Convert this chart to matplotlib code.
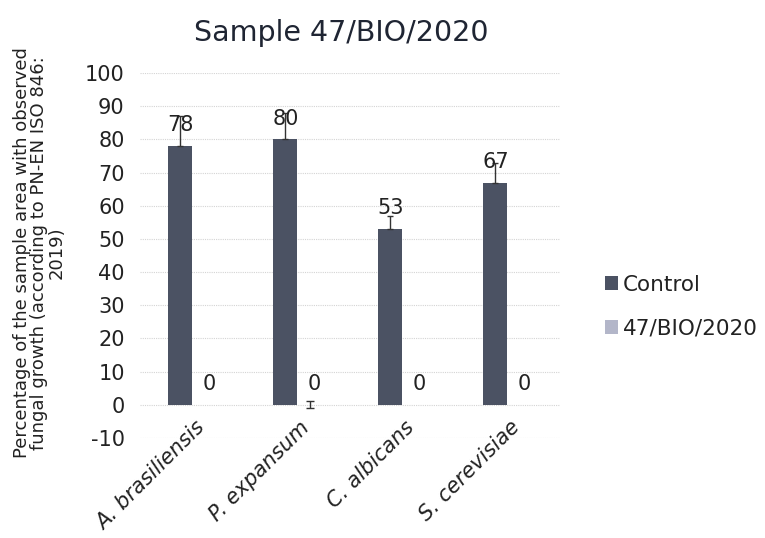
import matplotlib.pyplot as plt
import matplotlib.transforms as mtransforms
import numpy as np

plt.rcParams['axes.unicode_minus'] = False

species = ['A. brasiliensis', 'P. expansum', 'C. albicans', 'S. cerevisiae']
control = [78, 80, 53, 67]
control_err = [9, 8, 4, 6]
sample = [0, 0, 0, 0]
sample_err = [0, 1, 0, 0]

dark = '#4b5263'
light = '#b3b6c9'
ink = '#222222'

fig = plt.figure(figsize=(7.65, 5.38), dpi=100)
ax = fig.add_axes([0.183, 0.186, 0.549, 0.678])

x = np.arange(len(species))
w = 0.23
ax.bar(x - w / 2, control, w, color=dark, label='Control', zorder=3)
ax.bar(x + w / 2, sample, w, color=light, label='47/BIO/2020', zorder=3)

# control: only upper whisker with a small cap
ax.errorbar(x - w / 2, control, yerr=[np.zeros(4), control_err], fmt='none',
            ecolor='#333333', elinewidth=1, capsize=2.5, zorder=4)
# sample: symmetric whiskers where present
for xi, v, e in zip(x + w / 2, sample, sample_err):
    if e > 0:
        ax.errorbar(xi, v, yerr=e, fmt='none', ecolor='#333333',
                    elinewidth=1, capsize=3, zorder=4)

for xi, v in zip(x - w / 2, control):
    ax.text(xi, v + 3.3, str(v), ha='center', va='bottom', fontsize=15,
            color=ink, zorder=5)
for xi, v in zip(x + w / 2, sample):
    ax.text(xi + 0.04, v + 3.3, str(v), ha='center', va='bottom', fontsize=15,
            color=ink, zorder=5)

ax.set_ylim(-10, 100)
ax.set_xlim(-0.5, 3.5)
ax.set_yticks(range(-10, 101, 10))
ax.tick_params(axis='y', labelsize=15, length=0, pad=11, colors=ink)

# category labels sit next to the zero line, not the bottom of the axes
ax.spines['bottom'].set_position(('data', 0))
ax.set_xticks(x)
ax.set_xticklabels(species, rotation=45, ha='right', rotation_mode='anchor',
                   fontsize=15, style='italic', color=ink)
ax.tick_params(axis='x', length=0, pad=9)
shift = mtransforms.ScaledTranslation(2 / 100, 0, fig.dpi_scale_trans)
for lbl in ax.get_xticklabels():
    lbl.set_transform(lbl.get_transform() + shift)

ax.grid(axis='y', color='#d4d4d4', linestyle=(0, (1, 1)), linewidth=0.8, zorder=0)
for s in ax.spines.values():
    s.set_visible(False)

fig.text(0.051, 0.53,
         'Percentage of the sample area with observed\n'
         'fungal growth (according to PN-EN ISO 846:\n2019)',
         rotation=90, ha='center', va='center', multialignment='center',
         fontsize=13, color=ink, linespacing=0.95)

fig.text(0.446, 0.939, 'Sample 47/BIO/2020', ha='center', va='center',
         fontsize=20.5, color='#1f2533')

fig.legend(loc='center left', bbox_to_anchor=(0.766, 0.430), frameon=False,
           fontsize=15.5, handlelength=0.6, handleheight=0.6, handletextpad=0.2,
           labelspacing=1.1, labelcolor=ink)

fig.savefig('out.png', dpi=100)
